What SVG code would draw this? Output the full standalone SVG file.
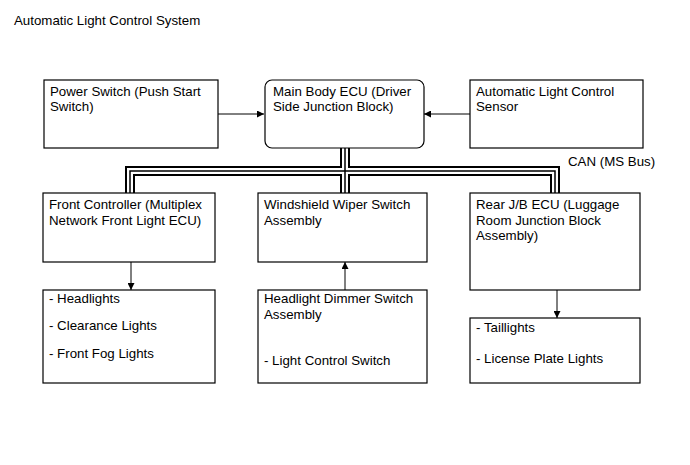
<svg xmlns="http://www.w3.org/2000/svg" width="690" height="465" viewBox="0 0 690 465">
<defs>
<style>
text{font-family:"Liberation Sans",Arial,sans-serif;font-size:13.3px;fill:#000}
.box{fill:#fff;stroke:#000;stroke-width:1.2}
.ln{fill:none;stroke:#000;stroke-width:1}
.c1{fill:none;stroke:#000;stroke-width:10}
.c2{fill:none;stroke:#fff;stroke-width:6}
.c3{fill:none;stroke:#000;stroke-width:1.5}
</style>
<marker id="ah" viewBox="0 0 10 10" refX="10" refY="5" markerWidth="9" markerHeight="7" markerUnits="userSpaceOnUse" orient="auto"><path d="M0,0L10,5L0,10z" fill="#000"/></marker>
</defs>
<rect width="690" height="465" fill="#fff"/>
<text x="14" y="25">Automatic Light Control System</text>
<g id="connectors">
<g id="can-bus">
<path class="c1" d="M345,148V193M130,193V171H555V193"/>
<path class="c2" d="M345,148V193M130,193V171H555V193"/>
<path class="c3" d="M345,148V193M130,193V171H555V193"/>
</g>
<path class="ln" d="M218,114H264" marker-end="url(#ah)"/>
<path class="ln" d="M470,114H424" marker-end="url(#ah)"/>
<path class="ln" d="M131,262V290" marker-end="url(#ah)"/>
<path class="ln" d="M345,290V262" marker-end="url(#ah)"/>
<path class="ln" d="M557,290V318" marker-end="url(#ah)"/>
<text x="568" y="166">CAN (MS Bus)</text>
</g>
<g id="power-switch"><rect class="box" x="44" y="80" width="174" height="68"/><text x="50" y="96">Power Switch (Push Start</text><text x="50" y="111">Switch)</text></g>
<g id="main-body-ecu"><rect class="box" x="265" y="80" width="159" height="68" rx="7"/><text x="273" y="96">Main Body ECU (Driver</text><text x="273" y="111">Side Junction Block)</text></g>
<g id="auto-light-sensor"><rect class="box" x="470" y="80" width="173" height="68"/><text x="476" y="96">Automatic Light Control</text><text x="476" y="111">Sensor</text></g>
<g id="front-controller"><rect class="box" x="43" y="193" width="172" height="69"/><text x="49" y="208.5">Front Controller (Multiplex</text><text x="49" y="224.5">Network Front Light ECU)</text></g>
<g id="wiper-switch"><rect class="box" x="258" y="193" width="169" height="69"/><text x="264" y="208.5">Windshield Wiper Switch</text><text x="264" y="224.5">Assembly</text></g>
<g id="rear-jb-ecu"><rect class="box" x="470" y="193" width="170" height="97"/><text x="476" y="208.5">Rear J/B ECU (Luggage</text><text x="476" y="224.5">Room Junction Block</text><text x="476" y="240">Assembly)</text></g>
<g id="front-lights"><rect class="box" x="43" y="290" width="172" height="93"/><text x="49" y="302.5">- Headlights</text><text x="49" y="330">- Clearance Lights</text><text x="49" y="357.5">- Front Fog Lights</text></g>
<g id="dimmer-switch"><rect class="box" x="258" y="290" width="169" height="93"/><text x="264" y="302.5">Headlight Dimmer Switch</text><text x="264" y="318.5">Assembly</text><text x="264" y="365">- Light Control Switch</text></g>
<g id="rear-lights"><rect class="box" x="470" y="318" width="170" height="65"/><text x="476" y="331.5">- Taillights</text><text x="476" y="363">- License Plate Lights</text></g>
</svg>
